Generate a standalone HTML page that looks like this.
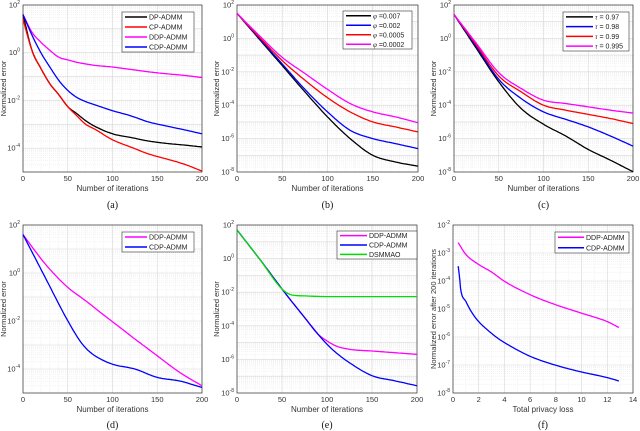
<!DOCTYPE html>
<html><head><meta charset="utf-8"><style>
body{margin:0;background:#fff}
svg{display:block;font-family:"Liberation Sans",sans-serif}
</style></head><body>
<svg id="fig" width="640" height="431" viewBox="0 0 640 431" xmlns="http://www.w3.org/2000/svg"></svg>
<script>
// ---- data (y values stored as log10 exponents) ----
const aX=[0,10,20,30,40,50,60,70,80,100,120,140,160,180,200];
const aDP=[1.6,0.1,-0.66,-1.3,-1.76,-2.26,-2.55,-2.85,-3.08,-3.4,-3.55,-3.7,-3.8,-3.87,-3.95];
const aCP=[1.4,0.1,-0.66,-1.3,-1.76,-2.26,-2.64,-3.0,-3.2,-3.65,-3.95,-4.24,-4.45,-4.67,-4.96];
const aDDP=[1.6,0.86,0.44,0.1,-0.19,-0.3,-0.4,-0.47,-0.53,-0.6,-0.7,-0.8,-0.88,-0.95,-1.04];
const aCDP=[1.6,0.74,0.0,-0.6,-1.16,-1.58,-1.87,-2.05,-2.18,-2.43,-2.64,-2.9,-3.07,-3.23,-3.4];
const bX=[0,25,50,75,100,125,150,175,200];
const b007=[1.5,-0.07,-1.63,-3.2,-4.7,-6.0,-7.0,-7.4,-7.65];
const b002=[1.5,-0.02,-1.53,-3.05,-4.4,-5.5,-6.0,-6.3,-6.6];
const b0005=[1.5,0.05,-1.33,-2.5,-3.55,-4.4,-5.0,-5.3,-5.6];
const b0002=[1.5,0.15,-1.14,-2.1,-3.05,-3.9,-4.4,-4.7,-5.05];
const cX=[0,25,50,75,100,125,150,175,200];
const c97=[1.43,-0.6,-2.6,-4.2,-5.14,-5.85,-6.65,-7.3,-7.98];
const c98=[1.43,-0.5,-2.45,-3.6,-4.4,-4.85,-5.3,-5.85,-6.45];
const c99=[1.43,-0.4,-2.25,-3.2,-4.0,-4.3,-4.55,-4.8,-5.1];
const c995=[1.43,-0.3,-2.05,-3.0,-3.7,-3.9,-4.1,-4.3,-4.47];
const dX=[0,25,50,65,75,85,100,125,150,175,200];
const dDDP=[1.6,0.37,-0.6,-1.02,-1.3,-1.6,-2.03,-2.75,-3.45,-4.14,-4.7];
const dCDP=[1.6,-0.2,-1.99,-2.9,-3.3,-3.55,-3.8,-4.0,-4.35,-4.5,-4.77];
const eX=[0,25,50,60,75,90,100,110,125,150,175,200];
const eDDP=[1.7,-0.02,-1.81,-2.5,-3.5,-4.5,-4.9,-5.2,-5.4,-5.5,-5.6,-5.7];
const eCDP=[1.7,-0.02,-1.81,-2.5,-3.5,-4.5,-5.1,-5.6,-6.2,-6.97,-7.27,-7.57];
const eDSM=[1.7,-0.02,-1.81,-2.15,-2.22,-2.25,-2.26,-2.26,-2.26,-2.26,-2.26,-2.26];
const fXm=[0.4,1,2,3,4,6,8,10,12,12.9];
const fDDP=[-2.63,-3.05,-3.41,-3.68,-4.01,-4.49,-4.85,-5.15,-5.45,-5.66];
const fXb=[0.4,0.5,0.6,1,1.5,2,3,3.5,4,6,8,10,12,12.9];
const fCDP=[-3.47,-3.83,-4.3,-4.73,-5.15,-5.45,-5.87,-6.05,-6.2,-6.69,-7.01,-7.25,-7.45,-7.57];
const iterTicks=[0,50,100,150,200];
const lossTicks=[0,2,4,6,8,10,12,14];

const NS="http://www.w3.org/2000/svg";
const svg=document.getElementById('fig');
function mk(tag,attrs,parent){const e=document.createElementNS(NS,tag);for(const k in attrs)e.setAttribute(k,attrs[k]);(parent||svg).appendChild(e);return e;}

function smooth(xs,ys,n){
  const m=xs.length,d=[],t=new Array(m);
  for(let i=0;i<m-1;i++)d.push((ys[i+1]-ys[i])/(xs[i+1]-xs[i]));
  t[0]=d[0];t[m-1]=d[m-2];
  for(let i=1;i<m-1;i++)t[i]=(d[i-1]*d[i]<=0)?0:(d[i-1]+d[i])/2;
  for(let i=0;i<m-1;i++){if(d[i]===0){t[i]=t[i+1]=0;continue;}
    const a=t[i]/d[i],b=t[i+1]/d[i],s=a*a+b*b;if(s>9){const k=3/Math.sqrt(s);t[i]=k*a*d[i];t[i+1]=k*b*d[i];}}
  const out=[];
  for(let i=0;i<m-1;i++){const h=xs[i+1]-xs[i];
    for(let j=0;j<n;j++){const u=j/n,u2=u*u,u3=u2*u;
      const y=(2*u3-3*u2+1)*ys[i]+(u3-2*u2+u)*h*t[i]+(-2*u3+3*u2)*ys[i+1]+(u3-u2)*h*t[i+1];
      out.push([xs[i]+u*h,y]);}}
  out.push([xs[m-1],ys[m-1]]);return out;
}

function panel(p){
  const g=mk('g',{});
  
  
  const {x0,x1,y0,y1,xmin,xmax,emin,emax}=p;
  const sx=v=>x0+(v-xmin)/(xmax-xmin)*(x1-x0);
  const sy=e=>y1-(e-emin)/(emax-emin)*(y1-y0);
  for(let e=emin;e<emax;e++){for(let k=2;k<10;k++){const y=sy(e+Math.log10(k));
    mk('line',{x1:x0,x2:x1,y1:y,y2:y,stroke:'#e8e8e8','stroke-width':0.5,'stroke-dasharray':'1,1'},g);}}
  for(const t of p.xminor){const x=sx(t);mk('line',{x1:x,x2:x,y1:y0,y2:y1,stroke:'#e8e8e8','stroke-width':0.5,'stroke-dasharray':'1,1'},g);}
  for(let e=emin;e<=emax;e++){const y=sy(e);mk('line',{x1:x0,x2:x1,y1:y,y2:y,stroke:'#d8d8d8','stroke-width':0.6},g);}
  for(const t of p.xticks){const x=sx(t);mk('line',{x1:x,x2:x,y1:y0,y2:y1,stroke:'#d8d8d8','stroke-width':0.6},g);}
  const box=mk('rect',{x:x0,y:y0,width:x1-x0,height:y1-y0,fill:'none',stroke:'#333','stroke-width':0.7},g);
  
  
  for(const t of p.xticks){const tx=mk('text',{x:sx(t),y:y1+9,'font-size':7.5,'text-anchor':'middle',fill:'#333'},g);tx.textContent=t;
    
    }
  for(let e=emax;e>=emin;e-=p.ystep){const y=sy(e);
    const tx=mk('text',{x:x0-3,y:y+2.5,'font-size':7.5,'text-anchor':'end',fill:'#333'},g);
    
    
    tx.textContent='10';
    const sup=mk('tspan',{dy:-3.5,'font-size':5},tx);sup.textContent=String(e);}
  const xl=mk('text',{x:(x0+x1)/2,y:y1+19,'font-size':8,'text-anchor':'middle',fill:'#333'},g);xl.textContent=p.xlabel;
  
  
  const yl=mk('text',{x:0,y:0,'font-size':7.5,'text-anchor':'middle',fill:'#333',transform:`translate(${p.ylx},${(y0+y1)/2}) rotate(-90)`},g);yl.textContent=p.ylabel;
  
  
  const cap=mk('text',{x:(x0+x1)/2,y:p.capY,'font-size':10,'text-anchor':'middle',fill:'#111','font-family':'Liberation Serif, serif'},g);cap.textContent=p.cap;
  
  
  for(const s of p.series){
    const pts=smooth(s.x,s.y,12).map(q=>sx(q[0]).toFixed(1)+','+sy(q[1]).toFixed(1)).join(' ');
    const l=mk('polyline',{points:pts,fill:'none',stroke:s.c,'stroke-width':1.3,'stroke-linejoin':'round'},g);
    
    
  }
  const L=p.leg;
  const lg=mk('g',{},g);
  
  
  mk('rect',{x:L.x,y:L.y,width:L.w,height:L.h,fill:'#fff',stroke:'#333','stroke-width':0.6},lg);
  const rh=L.h/p.series.length;
  p.series.forEach((s,i)=>{const cy=L.y+rh*(i+0.5);
    mk('line',{x1:L.x+3,x2:L.x+3+L.sw,y1:cy,y2:cy,stroke:s.c,'stroke-width':1.5},lg);
    const t=mk('text',{x:L.x+5+L.sw,y:cy+2.5,'font-size':7,fill:'#222'},lg);
    
    
    if(s.sym){const a=mk('tspan',{'font-family':'Liberation Serif, serif','font-style':'italic'},t);a.textContent=s.sym;const b=mk('tspan',{},t);b.textContent=s.lab;}
    else t.textContent=s.lab;});
}
const it10=[];for(let i=10;i<200;i+=10)it10.push(i);
const row1={y0:5,y1:172,capY:208};
const row2={y0:225,y1:393,capY:428};
const K='#000',R='#f00',M='#f0f',B='#00f',G='#0d0';
panel({name:'panel-a',x0:23,x1:202,...row1,xmin:0,xmax:200,emin:-5,emax:2,ystep:2,xticks:iterTicks,xminor:it10,xlabel:'Number of iterations',ylabel:'Normalized error',ylx:6,cap:'(a)',
 leg:{x:122,y:12,w:72,h:40,sw:22},
 series:[{x:aX,y:aDP,c:K,lab:'DP-ADMM'},{x:aX,y:aCP,c:R,lab:'CP-ADMM'},{x:aX,y:aDDP,c:M,lab:'DDP-ADMM'},{x:aX,y:aCDP,c:B,lab:'CDP-ADMM'}]});
panel({name:'panel-b',x0:237,x1:418,...row1,xmin:0,xmax:200,emin:-8,emax:2,ystep:2,xticks:iterTicks,xminor:it10,xlabel:'Number of iterations',ylabel:'Normalized error',ylx:219,cap:'(b)',
 leg:{x:343,y:11,w:69,h:38,sw:25},
 series:[{x:bX,y:b007,c:K,sym:'φ',lab:' =0.007'},{x:bX,y:b002,c:B,sym:'φ',lab:' =0.002'},{x:bX,y:b0005,c:R,sym:'φ',lab:' =0.0005'},{x:bX,y:b0002,c:M,sym:'φ',lab:' =0.0002'}]});
panel({name:'panel-c',x0:454,x1:633,...row1,xmin:0,xmax:200,emin:-8,emax:2,ystep:2,xticks:iterTicks,xminor:it10,xlabel:'Number of iterations',ylabel:'Normalized error',ylx:436,cap:'(c)',
 leg:{x:563,y:12,w:66,h:39,sw:27},
 series:[{x:cX,y:c97,c:K,sym:'τ',lab:' = 0.97'},{x:cX,y:c98,c:B,sym:'τ',lab:' = 0.98'},{x:cX,y:c99,c:R,sym:'τ',lab:' = 0.99'},{x:cX,y:c995,c:M,sym:'τ',lab:' = 0.995'}]});
panel({name:'panel-d',x0:23,x1:202,...row2,xmin:0,xmax:200,emin:-5,emax:2,ystep:2,xticks:iterTicks,xminor:it10,xlabel:'Number of iterations',ylabel:'Normalized error',ylx:6,cap:'(d)',
 leg:{x:122,y:232,w:72,h:20,sw:22},
 series:[{x:dX,y:dDDP,c:M,lab:'DDP-ADMM'},{x:dX,y:dCDP,c:B,lab:'CDP-ADMM'}]});
panel({name:'panel-e',x0:237,x1:417,...row2,xmin:0,xmax:200,emin:-8,emax:2,ystep:2,xticks:iterTicks,xminor:it10,xlabel:'Number of iterations',ylabel:'Normalized error',ylx:219,cap:'(e)',
 leg:{x:337,y:231,w:80,h:28,sw:27},
 series:[{x:eX,y:eDDP,c:M,lab:'DDP-ADMM'},{x:eX,y:eCDP,c:B,lab:'CDP-ADMM'},{x:eX,y:eDSM,c:G,lab:'DSMMAO'}]});
panel({name:'panel-f',x0:453,x1:633,...row2,xmin:0,xmax:14,emin:-8,emax:-2,ystep:1,xticks:lossTicks,xminor:[1,3,5,7,9,11,13],xlabel:'Total privacy loss',ylabel:'Normalized error after 200 iterations',ylx:436,cap:'(f)',
 leg:{x:555,y:232,w:74,h:21,sw:26},
 series:[{x:fXm,y:fDDP,c:M,lab:'DDP-ADMM'},{x:fXb,y:fCDP,c:B,lab:'CDP-ADMM'}]});
</script>
</body></html>
